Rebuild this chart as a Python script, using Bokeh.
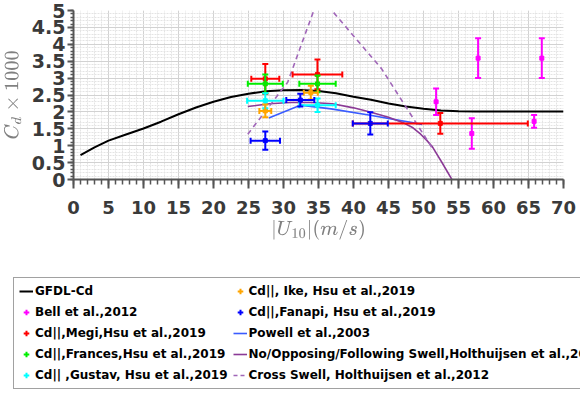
from bokeh.plotting import figure
from bokeh.models import (ColumnDataSource, Whisker, TeeHead, Legend, LegendItem, Range1d,
                          SingleIntervalTicker, NumeralTickFormatter)
from bokeh.embed import file_html
from bokeh.resources import INLINE

# ---------------- data ----------------
gfdl_u = [1, 3, 5, 7.5, 10, 12.5, 15, 17.5, 20, 22.5, 25, 27.5, 30, 32.5, 35, 37.5,
          40, 42.5, 45, 47.5, 50, 52.5, 55, 57.5, 60, 65, 70]
gfdl_cd = [0.72, 0.95, 1.15, 1.33, 1.51, 1.71, 1.93, 2.13, 2.30, 2.44, 2.54, 2.61, 2.64,
           2.65, 2.62, 2.55, 2.45, 2.36, 2.25, 2.16, 2.09, 2.04, 2.02, 2.01, 2.01, 2.01, 2.01]

bell_u = [51.8, 56.9, 57.8, 65.8, 66.9]
bell_cd = [2.30, 1.36, 3.59, 1.72, 3.59]
bell_cd_err = [0.39, 0.45, 0.59, 0.19, 0.59]

megi_u = [27.4, 34.85, 52.4]
megi_cd = [2.98, 3.11, 1.66]
megi_u_err = [2.0, 3.55, 12.5]
megi_cd_err = [0.44, 0.44, 0.31]

frances_u = [27.4, 34.86]
frances_cd = [2.83, 2.83]
frances_u_err = [2.5, 2.6]
frances_cd_err = [0.28, 0.25]

gustav_u = [27.4, 34.86]
gustav_cd = [2.33, 2.20]
gustav_u_err = [2.6, 2.6]
gustav_cd_err = [0.22, 0.20]

ike_u = [27.4, 33.9]
ike_cd = [2.03, 2.57]
ike_u_err = [0.85, 1.0]
ike_cd_err = [0.19, 0.20]

fanapi_u = [27.4, 32.4, 42.4]
fanapi_cd = [1.15, 2.35, 1.66]
fanapi_u_err = [2.1, 2.0, 2.5]
fanapi_cd_err = [0.27, 0.19, 0.33]

powell_u = [27.9, 32.4, 36.8, 42.4, 49.8]
powell_cd = [1.82, 2.20, 2.09, 1.90, 1.63]

swell_u = [24.9, 28, 31, 34, 37, 40, 42.5, 45, 47, 48.5, 49.6, 50.5, 51.3, 52.7, 54.2]
swell_cd = [2.16, 2.24, 2.28, 2.28, 2.24, 2.12, 1.99, 1.84, 1.69, 1.53, 1.34, 1.15, 0.96, 0.48, -0.05]

cross_u = [24.9, 30.6, 35.1, 44.0, 51.3]
cross_cd = [1.34, 2.88, 5.44, 3.28, 0.91]

labels = ["GFDL-Cd", "Bell et al.,2012", "Cd||,Megi,Hsu et al.,2019",
          "Cd||,Frances,Hsu et al.,2019", "Cd|| ,Gustav, Hsu et al.,2019",
          "Cd||, Ike, Hsu et al.,2019", "Cd||,Fanapi, Hsu et al.,2019",
          "Powell et al.,2003", "No/Opposing/Following Swell,Holthuijsen et al.,2012",
          "Cross Swell, Holthuijsen et al.,2012"]

colors = dict(gfdl="black", bell="#ff00ff", megi="#ff0000", frances="#00ee00",
              gustav="#00ffff", ike="#ffa500", fanapi="#0000ff", powell="#3a5cff",
              swell="#8b3a96", cross="#a066b8")

# ---------------- main figure ----------------
p = figure(width=580, height=242, output_backend="svg", toolbar_location=None,
           x_range=Range1d(0, 70), y_range=Range1d(0, 5),
           min_border_left=73, min_border_right=17, min_border_top=10, min_border_bottom=0)
p.outline_line_color = None

xt = SingleIntervalTicker(interval=5, num_minor_ticks=5)
yt = SingleIntervalTicker(interval=0.5, num_minor_ticks=5)
p.xaxis.ticker = xt
p.yaxis.ticker = yt
p.xgrid.ticker = xt
p.ygrid.ticker = yt
p.yaxis.formatter = NumeralTickFormatter(format="0.[0]")

for g in (p.xgrid, p.ygrid):
    g.grid_line_color = "#d2d2d2"
    g.grid_line_width = 1
    g.minor_grid_line_color = "#e4e4e4"
    g.minor_grid_line_width = 1
    g.minor_grid_line_dash = "2 1"

for ax in (p.xaxis, p.yaxis):
    ax.axis_line_color = "#555555"
    ax.axis_line_width = 2
    ax.major_tick_line_color = "#555555"
    ax.major_tick_line_width = 2
    ax.minor_tick_line_color = "#555555"
    ax.minor_tick_line_width = 1.5
    ax.major_tick_in = 0
    ax.minor_tick_in = 0
    ax.major_label_text_font = "DejaVu Sans"
    ax.major_label_text_font_style = "bold"
    ax.major_label_text_color = "#3a3a3a"
    ax.axis_label_text_color = "#808080"
    ax.axis_label_text_font_style = "normal"

p.xaxis.major_tick_out = 9
p.xaxis.minor_tick_out = 5
p.yaxis.major_tick_out = 6
p.yaxis.minor_tick_out = 3
p.xaxis.major_label_text_font_size = "18px"
p.yaxis.major_label_text_font_size = "19px"
p.xaxis.major_label_standoff = 12
p.yaxis.major_label_standoff = 2
p.xaxis.axis_label = r"$$|U_{10}|(m/s)$$"
p.yaxis.axis_label = r"$$C_d \times 1000$$"
p.xaxis.axis_label_text_font_size = "17px"
p.yaxis.axis_label_text_font_size = "17px"
p.xaxis.axis_label_standoff = 3
p.yaxis.axis_label_standoff = 6

p.line(gfdl_u, gfdl_cd, line_color=colors["gfdl"], line_width=2)
p.line(powell_u, powell_cd, line_color=colors["powell"], line_width=1.6)
p.line(swell_u, swell_cd, line_color=colors["swell"], line_width=1.6)
p.line(cross_u, cross_cd, line_color=colors["cross"], line_width=1.6, line_dash="5 4")


def err_series(u, cd, cd_err, color, u_err=None):
    data = dict(u=u, cd=cd,
                clo=[c - e for c, e in zip(cd, cd_err)],
                chi=[c + e for c, e in zip(cd, cd_err)])
    if u_err is not None:
        data["ulo"] = [a - e for a, e in zip(u, u_err)]
        data["uhi"] = [a + e for a, e in zip(u, u_err)]
    src = ColumnDataSource(data)
    if u_err is not None:
        p.add_layout(Whisker(source=src, base="cd", lower="ulo", upper="uhi", dimension="width",
                             line_color=color, line_width=2, level="annotation",
                             lower_head=TeeHead(size=6, line_color=color, line_width=2),
                             upper_head=TeeHead(size=6, line_color=color, line_width=2)))
    p.add_layout(Whisker(source=src, base="u", lower="clo", upper="chi", dimension="height",
                         line_color=color, line_width=2, level="annotation",
                         lower_head=TeeHead(size=6, line_color=color, line_width=2),
                         upper_head=TeeHead(size=6, line_color=color, line_width=2)))
    p.scatter("u", "cd", source=src, marker="square", size=4, color=color, level="annotation")
    return src


s_bell = err_series(bell_u, bell_cd, bell_cd_err, colors["bell"])
s_megi = err_series(megi_u, megi_cd, megi_cd_err, colors["megi"], megi_u_err)
s_frances = err_series(frances_u, frances_cd, frances_cd_err, colors["frances"], frances_u_err)
s_gustav = err_series(gustav_u, gustav_cd, gustav_cd_err, colors["gustav"], gustav_u_err)
s_ike = err_series(ike_u, ike_cd, ike_cd_err, colors["ike"], ike_u_err)
s_fanapi = err_series(fanapi_u, fanapi_cd, fanapi_cd_err, colors["fanapi"], fanapi_u_err)

# ---------------- legend figure (its ranges show no data; it only hosts the legend) ----------------
lp = figure(width=580, height=151, output_backend="svg", toolbar_location=None,
            x_range=Range1d(-3, -2), y_range=Range1d(-3, -2), min_border=0,
            x_axis_location=None, y_axis_location=None)
lp.grid.visible = False
lp.outline_line_color = None


def leg_cross(src, color):
    return lp.scatter("u", "cd", source=src, marker="cross", size=11, line_color=color,
                      line_width=2)


leg_renderers = [
    lp.line(gfdl_u, gfdl_cd, line_color=colors["gfdl"], line_width=2),
    leg_cross(s_bell, colors["bell"]),
    leg_cross(s_megi, colors["megi"]),
    leg_cross(s_frances, colors["frances"]),
    leg_cross(s_gustav, colors["gustav"]),
    leg_cross(s_ike, colors["ike"]),
    leg_cross(s_fanapi, colors["fanapi"]),
    lp.line(powell_u, powell_cd, line_color=colors["powell"], line_width=1.6),
    lp.line(swell_u, swell_cd, line_color=colors["swell"], line_width=1.6),
    lp.line(cross_u, cross_cd, line_color=colors["cross"], line_width=1.6, line_dash="4 3"),
]

legend = Legend(items=[LegendItem(label=l, renderers=[r]) for l, r in zip(labels, leg_renderers)],
                nrows=5, orientation="vertical", location=(13, 4), margin=0,
                padding=5, spacing=5, glyph_width=14, glyph_height=14, label_height=16,
                label_standoff=2, label_text_font="DejaVu Sans", label_text_font_style="bold",
                label_text_font_size="12px", label_text_color="black",
                border_line_color="#444444", border_line_width=1, background_fill_alpha=1)
lp.add_layout(legend)

open("out.html", "w").write(file_html([p, lp], INLINE))
